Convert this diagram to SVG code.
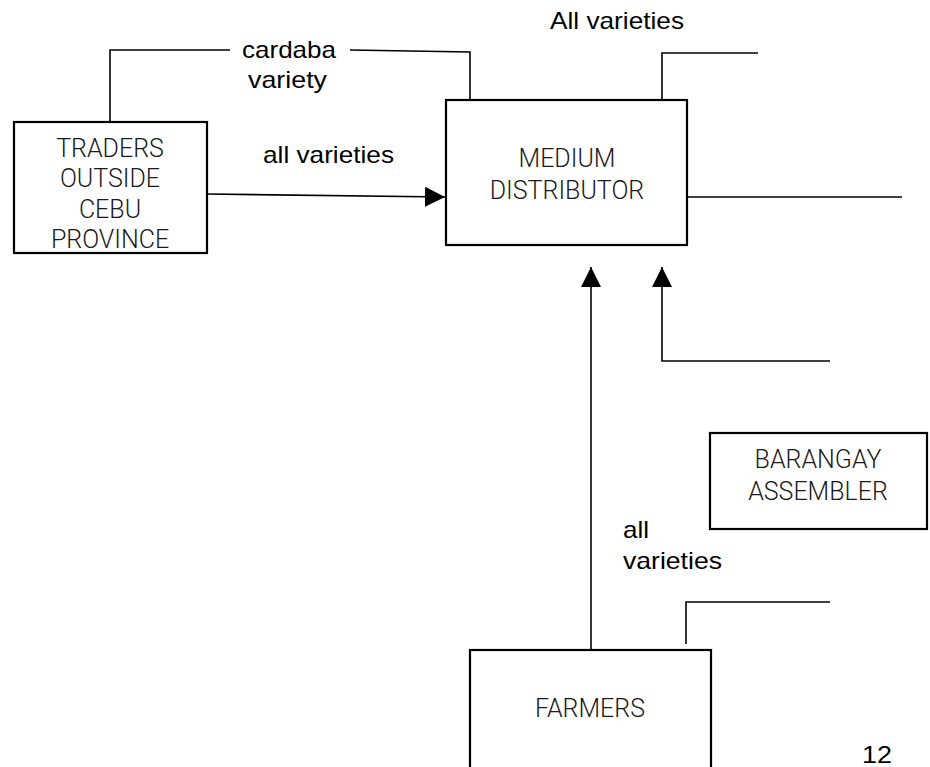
<svg xmlns="http://www.w3.org/2000/svg" width="930" height="767" viewBox="0 0 930 767">
<style>
.box{fill:#fff;stroke:#000;stroke-width:2.2}
.ln{fill:none;stroke:#000;stroke-width:1.6}
.nt{font-family:Roboto,"Liberation Sans",sans-serif;font-weight:300;font-size:25px;fill:#1a1a1a;text-anchor:middle}
.lb{font-family:"Liberation Sans",Arial,sans-serif;font-size:24px;fill:#000}
</style>
<defs>
<marker id="ah" viewBox="0 0 20 20" refX="20" refY="10" markerWidth="20" markerHeight="20" markerUnits="userSpaceOnUse" orient="auto">
<path d="M0,0 L20,10 L0,20 Z" fill="#000"/>
</marker>
</defs>
<rect width="930" height="767" fill="#fff"/>
<g id="connectors">
<polyline class="ln" points="110,122 110,50 230,50"/>
<polyline class="ln" points="350,50 470,52 470,100"/>
<line class="ln" x1="207" y1="194" x2="445" y2="197" marker-end="url(#ah)"/>
<polyline class="ln" points="662,100 662,53 758,53"/>
<line class="ln" x1="687" y1="197" x2="902" y2="197"/>
<line class="ln" x1="591" y1="650" x2="591" y2="267" marker-end="url(#ah)"/>
<polyline class="ln" points="830,361 662,361 662,267" marker-end="url(#ah)"/>
<polyline class="ln" points="686,644 686,602 830,602"/>
</g>
<g id="traders">
<rect class="box" x="14" y="122" width="193" height="131"/>
<text class="nt" x="110" y="157">TRADERS</text>
<text class="nt" x="110" y="187">OUTSIDE</text>
<text class="nt" x="110" y="218">CEBU</text>
<text class="nt" x="110" y="248">PROVINCE</text>
</g>
<g id="medium">
<rect class="box" x="446" y="100" width="241" height="145"/>
<text class="nt" x="567" y="167">MEDIUM</text>
<text class="nt" x="567" y="199">DISTRIBUTOR</text>
</g>
<g id="barangay">
<rect class="box" x="710" y="433" width="217" height="96"/>
<text class="nt" x="818" y="468">BARANGAY</text>
<text class="nt" x="818" y="500">ASSEMBLER</text>
</g>
<g id="farmers">
<rect class="box" x="470" y="650" width="241" height="130"/>
<text class="nt" x="590" y="717">FARMERS</text>
</g>
<g id="labels">
<text class="lb" x="242" y="58" textLength="94" lengthAdjust="spacingAndGlyphs">cardaba</text>
<text class="lb" x="248" y="88" textLength="79" lengthAdjust="spacingAndGlyphs">variety</text>
<text class="lb" x="263" y="163" textLength="131" lengthAdjust="spacingAndGlyphs">all varieties</text>
<text class="lb" x="550" y="29" textLength="134" lengthAdjust="spacingAndGlyphs">All varieties</text>
<text class="lb" x="623" y="538" textLength="26" lengthAdjust="spacingAndGlyphs">all</text>
<text class="lb" x="623" y="569" textLength="99" lengthAdjust="spacingAndGlyphs">varieties</text>
<text class="lb" x="862" y="763" textLength="30" lengthAdjust="spacingAndGlyphs">12</text>
</g>
</svg>
